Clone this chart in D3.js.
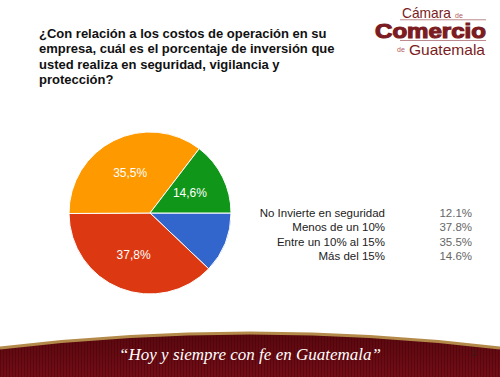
<!DOCTYPE html>
<html>
<head>
<meta charset="utf-8">
<script src="https://cdn.jsdelivr.net/npm/d3@7"></script>
<style>
  html, body { margin: 0; padding: 0; background: #fff; }
  svg { display: block; font-family: "Liberation Sans", Arial, sans-serif; }
</style>
</head>
<body>
<svg id="chart" width="500" height="377"></svg>
<script>
// data
var categories = ["No Invierte en seguridad", "Menos de un 10%", "Entre un 10% al 15%", "Más del 15%"];
var values = [12.1, 37.8, 35.5, 14.6];
var sliceLabels = ["", "37,8%", "35,5%", "14,6%"];
var colors = ["#3366cc", "#dc3912", "#ff9900", "#109618"];
var titleLines = ["¿Con relación a los costos de operación en su",
                  "empresa, cuál es el porcentaje de inversión que",
                  "usted realiza en seguridad, vigilancia y",
                  "protección?"];

var svg = d3.select("#chart");

// title
svg.append("g").selectAll("text")
    .data(titleLines)
    .enter().append("text")
    .attr("x", 39)
    .attr("y", (d, i) => 38 + i * 15.3)
    .attr("font-size", 13)
    .attr("font-weight", "bold")
    .attr("fill", "#111")
    .text(d => d);

// logo (text)
var narrow = "Liberation Sans Narrow, Liberation Sans, sans-serif";
var logo = svg.append("g").attr("fill", "#7b1c22");
logo.append("text").attr("x", 402).attr("y", 18).attr("font-size", 15)
    .attr("font-family", narrow)
    .attr("textLength", 49).attr("lengthAdjust", "spacingAndGlyphs").text("Cámara");
logo.append("text").attr("x", 455).attr("y", 18).attr("font-size", 7).attr("fill", "#b05a5e").text("de");
logo.append("rect").attr("x", 400).attr("y", 19.5).attr("width", 86).attr("height", 0.7).attr("fill", "#a0585e");
logo.append("text").attr("x", 375).attr("y", 37.5).attr("font-size", 20).attr("font-weight", "bold")
    .attr("font-family", narrow)
    .attr("stroke", "#7b1c22").attr("stroke-width", 1.1)
    .attr("textLength", 111).attr("lengthAdjust", "spacingAndGlyphs").text("Comercio");
logo.append("rect").attr("x", 400).attr("y", 40).attr("width", 86).attr("height", 0.7).attr("fill", "#a0585e");
logo.append("text").attr("x", 397).attr("y", 52).attr("font-size", 7).attr("fill", "#b05a5e").text("de");
logo.append("text").attr("x", 409).attr("y", 55).attr("font-size", 15)
    .attr("font-family", narrow)
    .attr("textLength", 76).attr("lengthAdjust", "spacingAndGlyphs").text("Guatemala");

// pie
var cx = 150, cy = 213, R = 81;
var pie = d3.pie().sort(null)
    .startAngle(Math.PI / 2)
    .endAngle(Math.PI / 2 + 2 * Math.PI);
var arc = d3.arc().innerRadius(0).outerRadius(R);
var labelArc = d3.arc().innerRadius(R * 0.55).outerRadius(R * 0.55);

var g = svg.append("g").attr("transform", `translate(${cx},${cy})`);
var arcs = pie(values);
g.selectAll("path")
    .data(arcs)
    .enter().append("path")
    .attr("d", arc)
    .attr("fill", (d, i) => colors[i])
    .attr("stroke", "#fff")
    .attr("stroke-width", 1);

g.selectAll("text.lab")
    .data(arcs)
    .enter().append("text")
    .attr("class", "lab")
    .attr("transform", d => `translate(${labelArc.centroid(d)})`)
    .attr("text-anchor", "middle")
    .attr("dy", "0.35em")
    .attr("font-size", 12)
    .attr("fill", "#fff")
    .text((d, i) => sliceLabels[i]);

// legend table
var y = d3.scalePoint().domain(categories).range([213, 256]);
var legend = svg.append("g").attr("font-size", 11.5);
legend.selectAll("text.cat")
    .data(categories)
    .enter().append("text")
    .attr("class", "cat")
    .attr("x", 385)
    .attr("y", d => y(d))
    .attr("dy", "0.35em")
    .attr("text-anchor", "end")
    .attr("fill", "#222")
    .text(d => d);
legend.selectAll("text.val")
    .data(values)
    .enter().append("text")
    .attr("class", "val")
    .attr("x", 472)
    .attr("y", (d, i) => y(categories[i]))
    .attr("dy", "0.35em")
    .attr("text-anchor", "end")
    .attr("fill", "#666")
    .text(d => d.toFixed(1) + "%");

// footer band
var defs = svg.append("defs");
var pat = defs.append("pattern").attr("id", "stripes")
    .attr("patternUnits", "userSpaceOnUse").attr("width", 3).attr("height", 10);
pat.append("rect").attr("width", 3).attr("height", 10).attr("fill", "#730d16");
pat.append("rect").attr("width", 1).attr("height", 10).attr("fill", "#5e0810");
var grad = defs.append("linearGradient").attr("id", "shade").attr("x1", 0).attr("y1", 0).attr("x2", 0).attr("y2", 1);
grad.append("stop").attr("offset", "0%").attr("stop-color", "#3a0005").attr("stop-opacity", 0.45);
grad.append("stop").attr("offset", "100%").attr("stop-color", "#3a0005").attr("stop-opacity", 0);

var curve = "M0,348 Q250,318 500,348";
svg.append("path")
    .attr("d", curve + " L500,377 L0,377 Z")
    .attr("fill", "url(#stripes)");
svg.append("path")
    .attr("d", curve + " L500,377 L0,377 Z")
    .attr("fill", "url(#shade)");
svg.append("path")
    .attr("d", curve)
    .attr("fill", "none")
    .attr("stroke", "#b48a4a")
    .attr("stroke-width", 3);

svg.append("text")
    .attr("x", 250).attr("y", 360)
    .attr("text-anchor", "middle")
    .attr("font-family", "Liberation Serif, serif")
    .attr("font-style", "italic")
    .attr("font-size", 17)
    .attr("fill", "#fff")
    .text("“Hoy y siempre con fe en Guatemala”");

svg.append("text")
    .attr("x", 474).attr("y", 356)
    .attr("text-anchor", "middle")
    .attr("font-size", 9)
    .attr("fill", "#3a1a1a")
    .text("2");
</script>
</body>
</html>
